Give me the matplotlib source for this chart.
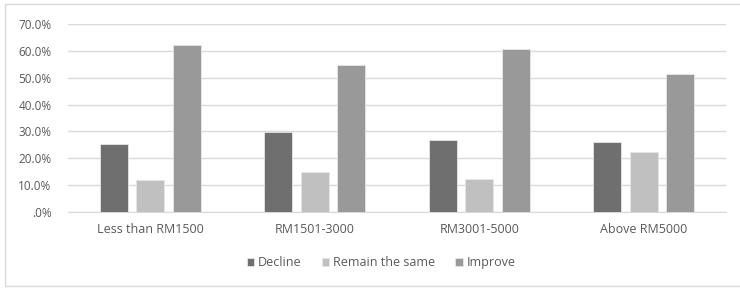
from matplotlib import pyplot
from matplotlib.patches import Rectangle
from matplotlib.ticker import FuncFormatter
import numpy

groups = ["Less than RM1500", "RM1501-3000", "RM3001-5000", "Above RM5000"]
series = ["Decline", "Remain the same", "Improve"]
decline = [25.2, 29.7, 26.7, 26.2]
remain = [11.9, 15.0, 12.2, 22.2]
improve = [62.2, 54.6, 60.7, 51.5]
colours = ["#6f6f6f", "#c0c0c0", "#999999"]

pyplot.rcParams["font.family"] = ["Open Sans", "DejaVu Sans"]
txt = "#595959"

fig = pyplot.figure(figsize=(7.4, 2.88), dpi=100)
fig.patches.append(Rectangle((0.007, 0.007), 1.2, 0.978, transform=fig.transFigure,
                             fill=False, edgecolor="#d9d9d9", linewidth=1.0))
ax = fig.add_axes([0.092, 0.264, 0.889, 0.653])

x = numpy.arange(len(groups))
w = 0.17
step = 0.222
for i, (vals, lab) in enumerate(zip([decline, remain, improve], series)):
    ax.bar(x + (i - 1) * step, vals, w, color=colours[i], label=lab,
           edgecolor="#e6e6e6", linewidth=0.6, zorder=3)

ax.set_xlim(-0.5, len(groups) - 0.5)
ax.set_ylim(0, 70)
ax.set_yticks(numpy.arange(0, 71, 10))
ax.yaxis.set_major_formatter(FuncFormatter(lambda v, p: ".0%" if v == 0 else "%.1f%%" % v))
ax.set_xticks(x)
ax.set_xticklabels(groups)
ax.grid(axis="y", color="#d9d9d9", linewidth=1.0, zorder=0)
for s in ["top", "right", "left"]:
    ax.spines[s].set_visible(False)
ax.spines["bottom"].set_color("#d9d9d9")
ax.tick_params(axis="both", length=0, colors=txt)
ax.tick_params(axis="x", pad=8, labelsize=9)
ax.tick_params(axis="y", pad=12, labelsize=8.5)

leg = ax.legend(loc="center", bbox_to_anchor=(0.476, -0.27), ncol=3, frameon=False,
                fontsize=9, handlelength=0.6, handleheight=0.6, handletextpad=0.3,
                columnspacing=1.6)
for t in leg.get_texts():
    t.set_color(txt)

pyplot.savefig("out.png")
